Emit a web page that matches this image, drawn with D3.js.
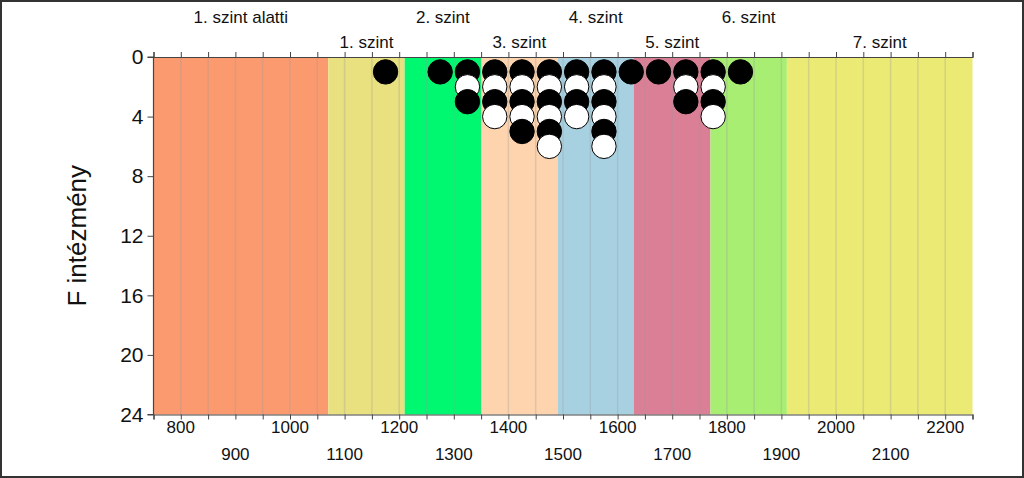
<!DOCTYPE html>
<html>
<head>
<meta charset="utf-8">
<script src="https://cdn.jsdelivr.net/npm/d3@7"></script>
<style>
  body { margin: 0; background: #fff; }
  svg { display: block; font-family: "Liberation Sans", Arial, sans-serif; }
</style>
</head>
<body>
<svg id="chart" width="1024" height="478"></svg>
<script>
// level bands (score ranges)
const bandNames = ["1. szint alatti", "1. szint", "2. szint", "3. szint", "4. szint", "5. szint", "6. szint", "7. szint"];
const bandEdges = [750, 1070, 1210, 1350, 1490, 1630, 1770, 1910, 2250];
const bandColors = ["#fc9a6f", "#e9e07f", "#00f870", "#fdd4ae", "#a7d1e1", "#da7f96", "#a8ee72", "#ebea75"];

// number of institutions per 50-point bin
const binCenters = [1175, 1275, 1325, 1375, 1425, 1475, 1525, 1575, 1625, 1675, 1725, 1775, 1825];
const binCounts  = [1, 1, 3, 4, 5, 6, 4, 6, 1, 1, 3, 4, 1];

const xTicks = d3.range(750, 2251, 50);
const xLabels = [800, 900, 1000, 1100, 1200, 1300, 1400, 1500, 1600, 1700, 1800, 1900, 2000, 2100, 2200];
const yTicks = [0, 4, 8, 12, 16, 20, 24];

const margin = { left: 153.5, right: 972.5, top: 57, bottom: 414.5 };

const svg = d3.select("#chart");

const x = d3.scaleLinear().domain([750, 2250]).range([margin.left, margin.right]);
const y = d3.scaleLinear().domain([0, 24]).range([margin.top, margin.bottom]);

// outer frame
svg.append("rect")
  .attr("x", 1).attr("y", 1)
  .attr("width", 1022).attr("height", 476)
  .attr("fill", "none")
  .attr("stroke", "#333")
  .attr("stroke-width", 2);

// bands
const bands = bandNames.map((name, i) => ({ name, x0: bandEdges[i], x1: bandEdges[i + 1], color: bandColors[i] }));

svg.append("g").selectAll("rect")
  .data(bands)
  .enter().append("rect")
  .attr("x", d => x(d.x0))
  .attr("y", margin.top)
  .attr("width", d => x(d.x1) - x(d.x0))
  .attr("height", margin.bottom - margin.top)
  .attr("fill", d => d.color);

// vertical grid
svg.append("g").selectAll("line")
  .data(xTicks.slice(1, -1))
  .enter().append("line")
  .attr("x1", d => x(d)).attr("x2", d => x(d))
  .attr("y1", margin.top).attr("y2", margin.bottom)
  .attr("stroke", "#9a9a9a")
  .attr("stroke-opacity", 0.3)
  .attr("stroke-width", 1.5);

// band labels, alternating rows
svg.append("g").selectAll("text")
  .data(bands)
  .enter().append("text")
  .attr("x", d => x((d.x0 + d.x1) / 2))
  .attr("y", (d, i) => i % 2 === 0 ? 22.5 : 47.5)
  .attr("text-anchor", "middle")
  .style("font-size", "17px")
  .attr("fill", "#111")
  .text(d => d.name);

// dots
const dots = [];
binCenters.forEach((c, i) => {
  for (let k = 1; k <= binCounts[i]; k++) dots.push({ x: c, k });
});

svg.append("g").selectAll("circle")
  .data(dots)
  .enter().append("circle")
  .attr("cx", d => x(d.x))
  .attr("cy", d => y(d.k))
  .attr("r", 12.2)
  .attr("fill", d => d.k % 2 === 1 ? "#000" : "#fff")
  .attr("stroke", "#000")
  .attr("stroke-width", 1);

// top axis
const topAxis = svg.append("g")
  .attr("transform", `translate(0,${margin.top})`)
  .call(d3.axisTop(x).tickValues(xTicks).tickSize(5).tickFormat(""));

// bottom axis
const bottomAxis = svg.append("g")
  .attr("transform", `translate(0,${margin.bottom})`)
  .call(d3.axisBottom(x).tickValues(xTicks).tickSize(5).tickFormat(""));

// left axis
const leftAxis = svg.append("g")
  .attr("transform", `translate(${margin.left},0)`)
  .call(d3.axisLeft(y).tickValues(yTicks).tickSize(6).tickPadding(4));

[topAxis, bottomAxis, leftAxis].forEach(g => {
  g.select(".domain").attr("stroke", "#444").attr("stroke-width", 1.2);
  g.selectAll(".tick line").attr("stroke", "#444");
});
leftAxis.selectAll("text").style("font-size", "21px").attr("fill", "#111");
leftAxis.select(".domain").attr("d", `M${-6},${margin.top}H0V${margin.bottom}H${-6}`);

// bottom labels, alternating rows
svg.append("g").selectAll("text")
  .data(xLabels)
  .enter().append("text")
  .attr("x", d => x(d))
  .attr("y", (d, i) => i % 2 === 0 ? 433 : 459.5)
  .attr("text-anchor", "middle")
  .style("font-size", "17px")
  .attr("fill", "#111")
  .text(d => d);

// y title
svg.append("text")
  .attr("transform", `translate(86,${(margin.top + margin.bottom) / 2}) rotate(-90)`)
  .attr("text-anchor", "middle")
  .style("font-size", "26px")
  .attr("fill", "#111")
  .text("F intézmény");
</script>
</body>
</html>
